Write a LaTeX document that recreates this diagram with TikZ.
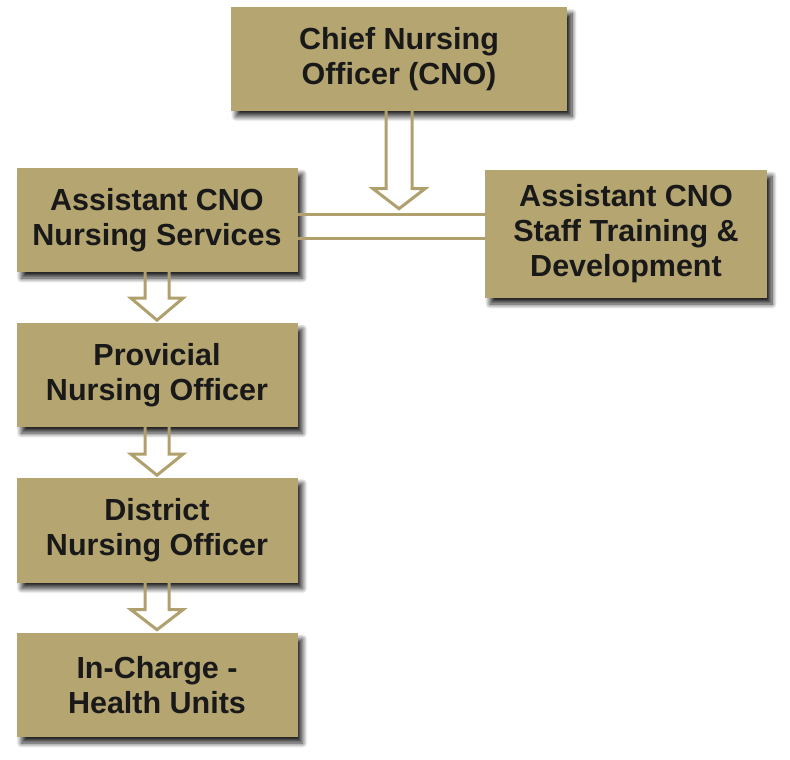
\documentclass[tikz,border=0pt]{standalone}
\usepackage{fontspec}
\setmainfont{Liberation Sans}
\usepackage{tikz}
\usetikzlibrary{calc,shadows,shadows.blur}

\definecolor{khaki}{RGB}{181,165,113}
\definecolor{khakiline}{RGB}{176,160,110}

\tikzset{
  post/.style={fill=khaki,draw=none,align=center,text=black!90,
    font=\fontsize{30.5}{35}\selectfont\bfseries,inner sep=0pt,
    blur shadow={shadow xshift=5pt,shadow yshift=-6pt,shadow blur radius=5pt,
      shadow blur steps=10,shadow opacity=85}},
  link/.style={draw=khakiline,line width=3pt},
}

% hollow arrow down from a point: start, shaft half width, head half width, shaft length, head length
\newcommand{\fatarrow}[5]{%
  \draw[link,line join=miter] ($(#1)+(-#2,0)$) -- ++(0,#4) -- ++({#2-#3},0)
    -- ($(#1)+(0,#4+#5)$) -- ($(#1)+(#3,#4)$) -- ++({#2-#3},0) -- ++(0,-#4);}

\begin{document}
\begin{tikzpicture}[x=1pt,y=-1pt]
\useasboundingbox (0,0) rectangle (790,760);
% boxes
\node[post,minimum width=336,minimum height=103] (cno) at (399,59) {Chief Nursing\\Officer (CNO)};
\node[post,minimum width=281,minimum height=104] (ans) at (157,220) {Assistant CNO\\Nursing Services};
\node[post,minimum width=282,minimum height=128] (ast) at (626,234) {Assistant CNO\\Staff Training \&\\Development};
\node[post,minimum width=281,minimum height=104] (pno) at (157,375) {Provicial\\Nursing Officer};
\node[post,minimum width=281,minimum height=105] (dno) at (157,530) {District\\Nursing Officer};
\node[post,minimum width=281,minimum height=104] (ich) at (157,685) {In-Charge -\\Health Units};
% links
\coordinate (l1) at ($(ans.east)+(0,-6)$);
\coordinate (l2) at ($(ans.east)+(0,18)$);
\draw[link] (l1) -- (l1 -| ast.west);
\draw[link] (l2) -- (l2 -| ast.west);
\fatarrow{cno.south}{13}{26}{78}{20}
\fatarrow{ans.south}{12}{26}{26}{22}
\fatarrow{pno.south}{12}{26}{27}{21}
\fatarrow{dno.south}{12}{26}{27}{20}
\end{tikzpicture}
\end{document}
